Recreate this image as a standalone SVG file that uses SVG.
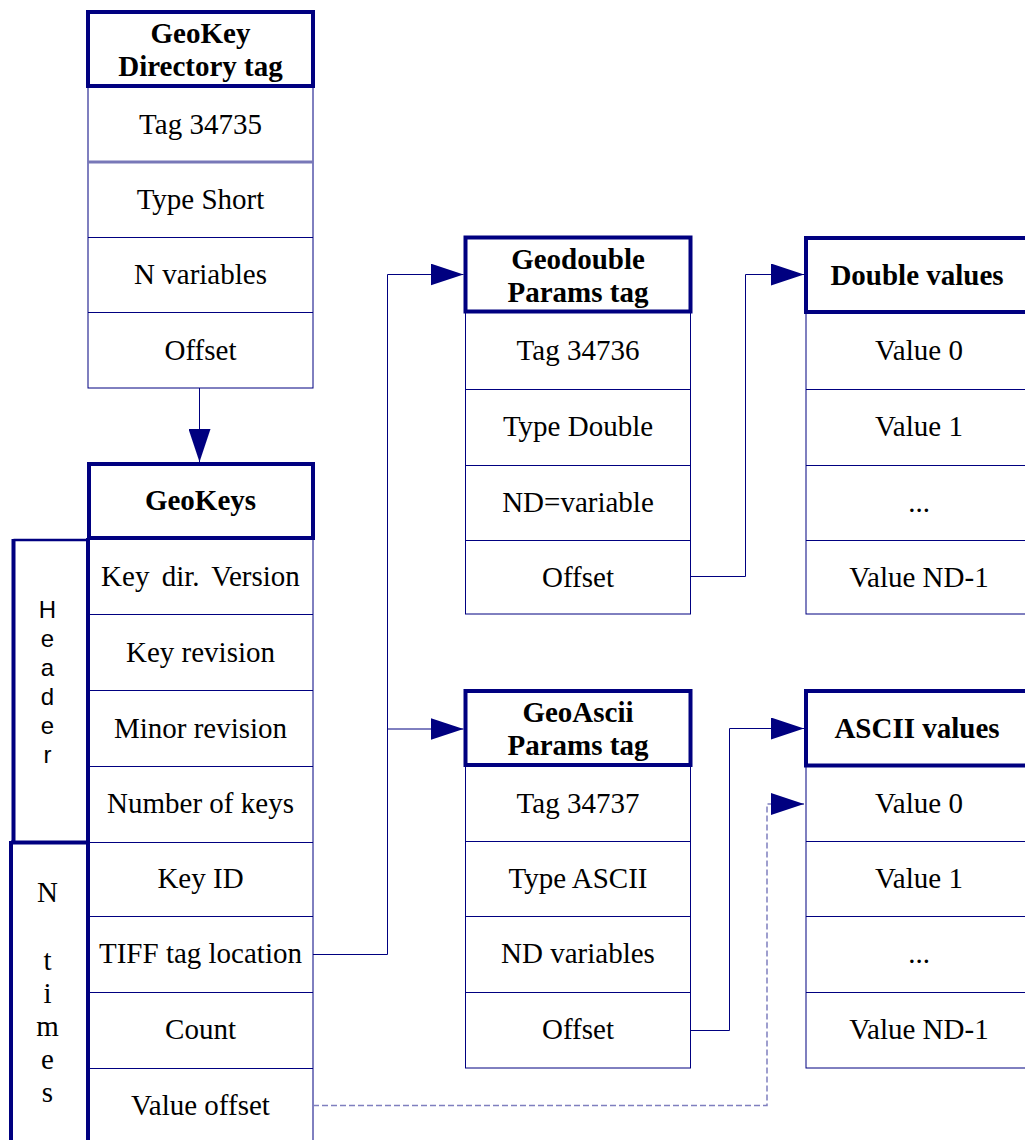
<svg xmlns="http://www.w3.org/2000/svg" width="1025" height="1140" viewBox="0 0 1025 1140">
  <style>
    .hdr { fill: #ffffff; stroke: #000080; stroke-width: 4; }
    .body { fill: #ffffff; stroke: #000080; stroke-width: 1; }
    .sep { stroke: #000080; stroke-width: 1; fill: none; }
    .sep-soft { stroke: #7878b8; stroke-width: 3; fill: none; }
    .lbl { font-family: "Liberation Serif", "Times New Roman", serif; font-size: 29px; fill: #000000; text-anchor: middle; }
    .title { font-family: "Liberation Serif", "Times New Roman", serif; font-size: 29px; font-weight: bold; fill: #000000; text-anchor: middle; }
    .side { font-family: "Liberation Sans", Arial, sans-serif; font-size: 24px; fill: #000000; text-anchor: middle; }
    .side-serif { font-family: "Liberation Serif", "Times New Roman", serif; font-size: 29px; fill: #000000; text-anchor: middle; }
    .bracket { fill: none; stroke: #000080; stroke-width: 4; }
    .link { fill: none; stroke: #000080; stroke-width: 1; }
    .link-dash { fill: none; stroke: #7f7fbf; stroke-width: 1.5; stroke-dasharray: 6 3; }
  </style>
  <defs>
    <marker id="arrow" markerUnits="userSpaceOnUse" markerWidth="33" markerHeight="22" refX="33" refY="11" orient="auto" viewBox="0 0 33 22">
      <path d="M0,0 L33,11 L0,22 Z" fill="#000080"/>
    </marker>
  </defs>

  <rect width="1025" height="1140" fill="#ffffff"/>

  <!-- GeoKey Directory tag -->
  <g id="geokey-directory">
    <rect class="body" x="88" y="86" width="225" height="302"/>
    <line class="sep-soft" x1="88" y1="162" x2="313" y2="162"/>
    <line class="sep" x1="88" y1="237.5" x2="313" y2="237.5"/>
    <line class="sep" x1="88" y1="312.5" x2="313" y2="312.5"/>
    <rect class="hdr" x="88" y="12" width="225" height="74"/>
    <text class="title" x="200.5" y="43">GeoKey</text>
    <text class="title" x="200.5" y="76">Directory tag</text>
    <text class="lbl" x="200.5" y="133.5">Tag 34735</text>
    <text class="lbl" x="200.5" y="209">Type Short</text>
    <text class="lbl" x="200.5" y="284">N variables</text>
    <text class="lbl" x="200.5" y="360">Offset</text>
  </g>

  <!-- GeoKeys -->
  <g id="geokeys">
    <rect class="body" x="88.5" y="538" width="224.5" height="610"/>
    <line class="sep" x1="88" y1="614.5" x2="313" y2="614.5"/>
    <line class="sep" x1="88" y1="690.5" x2="313" y2="690.5"/>
    <line class="sep" x1="88" y1="766.5" x2="313" y2="766.5"/>
    <line class="sep" x1="88" y1="842.5" x2="313" y2="842.5"/>
    <line class="sep" x1="88" y1="916.5" x2="313" y2="916.5"/>
    <line class="sep" x1="88" y1="992.5" x2="313" y2="992.5"/>
    <line class="sep" x1="88" y1="1068.5" x2="313" y2="1068.5"/>
    <rect class="hdr" x="89" y="464" width="224" height="74"/>
    <text class="title" x="200.5" y="510">GeoKeys</text>
    <text class="lbl" x="200.5" y="586" word-spacing="5">Key dir. Version</text>
    <text class="lbl" x="200.5" y="662">Key revision</text>
    <text class="lbl" x="200.5" y="738">Minor revision</text>
    <text class="lbl" x="200.5" y="813">Number of keys</text>
    <text class="lbl" x="200.5" y="888">Key ID</text>
    <text class="lbl" x="200.5" y="963">TIFF tag location</text>
    <text class="lbl" x="200.5" y="1039">Count</text>
    <text class="lbl" x="200.5" y="1115">Value offset</text>
  </g>

  <!-- Header bracket -->
  <g id="header-group">
    <line x1="13.5" y1="540" x2="88" y2="540" stroke="#000080" stroke-width="2.5"/>
    <line class="bracket" x1="13.5" y1="539" x2="13.5" y2="842.5"/>
    <line class="bracket" x1="88" y1="538" x2="88" y2="1140"/>
    <line class="bracket" x1="11" y1="842.5" x2="88" y2="842.5"/>
    <text class="side" x="47.5" y="618">H</text>
    <text class="side" x="47.5" y="647">e</text>
    <text class="side" x="47.5" y="676">a</text>
    <text class="side" x="47.5" y="705">d</text>
    <text class="side" x="47.5" y="734">e</text>
    <text class="side" x="47.5" y="763">r</text>
  </g>

  <!-- N times bracket -->
  <g id="ntimes-group">
    <line class="bracket" x1="11" y1="841" x2="11" y2="1140"/>
    <text class="side-serif" x="47.5" y="902">N</text>
    <text class="side-serif" x="47.5" y="970">t</text>
    <text class="side-serif" x="47.5" y="1003">i</text>
    <text class="side-serif" x="47.5" y="1036">m</text>
    <text class="side-serif" x="47.5" y="1069">e</text>
    <text class="side-serif" x="47.5" y="1102">s</text>
  </g>

  <!-- Geodouble Params tag -->
  <g id="geodouble-params">
    <rect class="body" x="465.5" y="311.5" width="225" height="302.5"/>
    <line class="sep" x1="465.5" y1="389.5" x2="690.5" y2="389.5"/>
    <line class="sep" x1="465.5" y1="465.5" x2="690.5" y2="465.5"/>
    <line class="sep" x1="465.5" y1="540.5" x2="690.5" y2="540.5"/>
    <rect class="hdr" x="465.5" y="237.5" width="225" height="74"/>
    <text class="title" x="578" y="268.5">Geodouble</text>
    <text class="title" x="578" y="301.5">Params tag</text>
    <text class="lbl" x="578" y="360">Tag 34736</text>
    <text class="lbl" x="578" y="436">Type Double</text>
    <text class="lbl" x="578" y="512">ND=variable</text>
    <text class="lbl" x="578" y="587">Offset</text>
  </g>

  <!-- Double values -->
  <g id="double-values">
    <rect class="body" x="806" y="312" width="222" height="302"/>
    <line class="sep" x1="806" y1="389.5" x2="1028" y2="389.5"/>
    <line class="sep" x1="806" y1="465.5" x2="1028" y2="465.5"/>
    <line class="sep" x1="806" y1="540.5" x2="1028" y2="540.5"/>
    <rect class="hdr" x="806" y="238" width="222" height="74"/>
    <text class="title" x="917" y="284.5">Double values</text>
    <text class="lbl" x="919" y="360">Value 0</text>
    <text class="lbl" x="919" y="436">Value 1</text>
    <text class="lbl" x="919" y="512">...</text>
    <text class="lbl" x="919" y="587">Value ND-1</text>
  </g>

  <!-- GeoAscii Params tag -->
  <g id="geoascii-params">
    <rect class="body" x="465.5" y="765" width="225" height="303"/>
    <line class="sep" x1="465.5" y1="841.5" x2="690.5" y2="841.5"/>
    <line class="sep" x1="465.5" y1="916.5" x2="690.5" y2="916.5"/>
    <line class="sep" x1="465.5" y1="992.5" x2="690.5" y2="992.5"/>
    <rect class="hdr" x="465.5" y="691" width="225" height="74"/>
    <text class="title" x="578" y="722">GeoAscii</text>
    <text class="title" x="578" y="755">Params tag</text>
    <text class="lbl" x="578" y="813">Tag 34737</text>
    <text class="lbl" x="578" y="888">Type ASCII</text>
    <text class="lbl" x="578" y="963">ND variables</text>
    <text class="lbl" x="578" y="1039">Offset</text>
  </g>

  <!-- ASCII values -->
  <g id="ascii-values">
    <rect class="body" x="806" y="765.5" width="222" height="302.5"/>
    <line class="sep" x1="806" y1="841.5" x2="1028" y2="841.5"/>
    <line class="sep" x1="806" y1="916.5" x2="1028" y2="916.5"/>
    <line class="sep" x1="806" y1="992.5" x2="1028" y2="992.5"/>
    <rect class="hdr" x="806" y="691" width="222" height="74.5"/>
    <text class="title" x="917" y="738">ASCII values</text>
    <text class="lbl" x="919" y="813">Value 0</text>
    <text class="lbl" x="919" y="888">Value 1</text>
    <text class="lbl" x="919" y="963">...</text>
    <text class="lbl" x="919" y="1039">Value ND-1</text>
  </g>

  <!-- Connectors -->
  <g id="connectors">
    <path class="link" d="M199.5,388 V462" marker-end="url(#arrow)"/>
    <path class="link" d="M313,954.5 H387.5 V274.5 H463.5" marker-end="url(#arrow)"/>
    <path class="link" d="M387.5,729 H463.5" marker-end="url(#arrow)"/>
    <path class="link" d="M690.5,576.5 H745.5 V274.5 H804" marker-end="url(#arrow)"/>
    <path class="link" d="M690.5,1030.5 H729.5 V728.5 H804" marker-end="url(#arrow)"/>
    <path class="link-dash" d="M313,1105.5 H767 V804 H790"/>
    <path class="link" d="M790,804 H804" stroke="none" marker-end="url(#arrow)"/>
  </g>
</svg>
